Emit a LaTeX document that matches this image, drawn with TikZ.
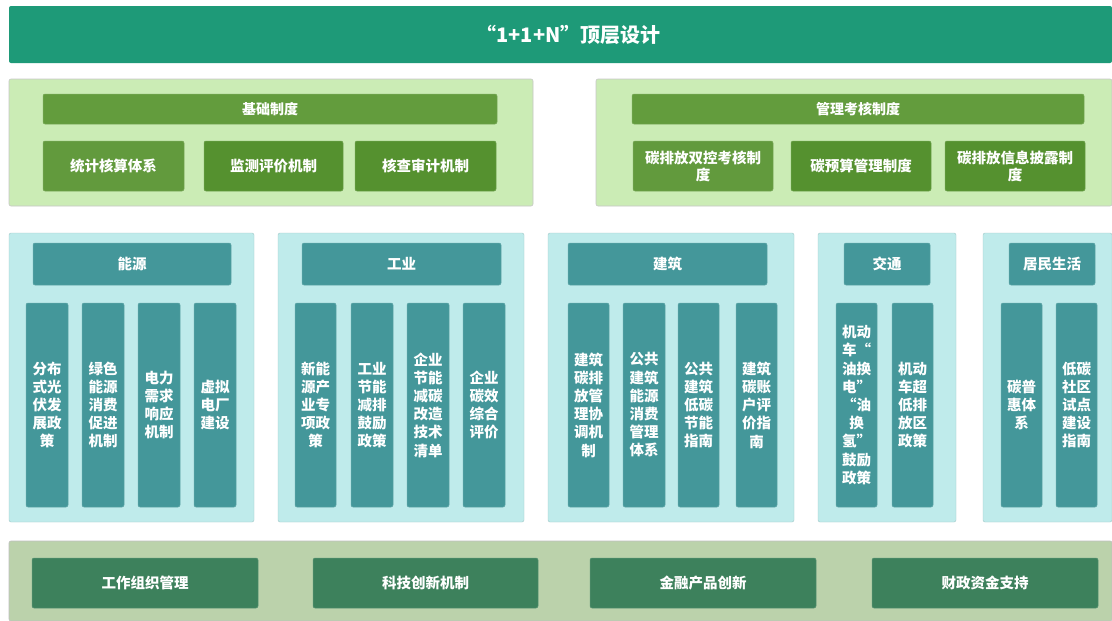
\documentclass[tikz,border=0pt]{standalone}
\usepackage{fontspec}
\setmainfont{Noto Sans CJK SC}
\definecolor{banner}{HTML}{1E9A78}
\definecolor{gpanel}{HTML}{CBECB5}
\definecolor{ghead}{HTML}{639C3D}
\definecolor{gitemA}{HTML}{629A3D}
\definecolor{gitemB}{HTML}{55912F}
\definecolor{cpanel}{HTML}{BFEBEB}
\definecolor{teal2}{HTML}{44979A}
\definecolor{opanel}{HTML}{BBD2AB}
\definecolor{dgreen}{HTML}{3D815C}
\tikzset{
  base/.style={rectangle, inner sep=0pt, align=center, text=white, font=\bfseries, rounded corners=2pt},
  bannerbox/.style={base, fill=banner, font=\bfseries\fontsize{20}{23}\selectfont},
  gpanelbox/.style={base, fill=gpanel, draw=black!22, line width=0.6pt},
  gheadbox/.style={base, fill=ghead, draw=ghead!85!white, line width=0.5pt, font=\bfseries\fontsize{14}{17}\selectfont},
  gitemabox/.style={base, fill=gitemA, draw=gitemA!85!white, line width=0.5pt, font=\bfseries\fontsize{14.5}{17}\selectfont},
  gitembbox/.style={base, fill=gitemB, draw=gitemB!85!white, line width=0.5pt, font=\bfseries\fontsize{14.5}{17}\selectfont},
  cpanelbox/.style={base, fill=cpanel, draw=cpanel!85!black, line width=0.4pt},
  theadbox/.style={base, fill=teal2, draw=teal2!85!white, line width=0.5pt, font=\bfseries\fontsize{14.5}{17}\selectfont},
  tcolbox/.style={base, fill=teal2, draw=teal2!85!white, line width=0.5pt, font=\bfseries\fontsize{14.5}{18.2}\selectfont},
  opanelbox/.style={base, fill=opanel, draw=black!25, line width=0.6pt},
  dgbox/.style={base, fill=dgreen, draw=dgreen!85!white, line width=0.5pt, font=\bfseries\fontsize{14.5}{17}\selectfont},
}
% #1 style, #2 name, #3 x1, #4 y1, #5 x2, #6 y2, #7 text
\newcommand{\bx}[7]{\node[#1, minimum width={(#5-#3)*1pt}, minimum height={(#6-#4)*1pt}] (#2) at ({(#3+#5)/2},{-(#4+#6)/2}) {#7};}
\begin{document}
\begin{tikzpicture}[x=1pt,y=1pt]
\useasboundingbox (0,0) rectangle (1112,-621);
\fill[white] (0,0) rectangle (1112,-621);
% banner
\bx{bannerbox}{top}{9}{6}{1112}{63}{\hspace*{16pt}“1+1+N”顶层设计}
% top panels
\bx{gpanelbox}{pl}{9}{79}{533}{206}{}
\bx{gheadbox}{hl}{43}{94}{497}{124}{基础制度}
\bx{gitemabox}{l1}{43}{141}{184}{191}{统计核算体系}
\bx{gitembbox}{l2}{204}{141}{343}{191}{监测评价机制}
\bx{gitembbox}{l3}{355}{141}{496}{191}{核查审计机制}
\bx{gpanelbox}{pr}{596}{79}{1112}{206}{}
\bx{gheadbox}{hr}{632}{94}{1084}{124}{管理考核制度}
\bx{gitemabox}{r1}{633}{141}{773}{191}{碳排放双控考核制\\度}
\bx{gitembbox}{r2}{791}{141}{931}{191}{碳预算管理制度}
\bx{gitembbox}{r3}{945}{141}{1085}{191}{碳排放信息披露制\\度}
% middle panels
\bx{cpanelbox}{m1}{9}{233}{254}{522}{}
\bx{theadbox}{h1}{33}{243}{231}{285}{能源}
\bx{tcolbox}{c11}{26}{303}{68}{507}{分布\\式光\\伏发\\展政\\策}
\bx{tcolbox}{c12}{82}{303}{124}{507}{绿色\\能源\\消费\\促进\\机制}
\bx{tcolbox}{c13}{138}{303}{180}{507}{电力\\需求\\响应\\机制}
\bx{tcolbox}{c14}{194}{303}{236}{507}{虚拟\\电厂\\建设}
\bx{cpanelbox}{m2}{278}{233}{524}{522}{}
\bx{theadbox}{h2}{302}{243}{501}{285}{工业}
\bx{tcolbox}{c21}{295}{303}{336}{507}{新能\\源产\\业专\\项政\\策}
\bx{tcolbox}{c22}{351}{303}{393}{507}{工业\\节能\\减排\\鼓励\\政策}
\bx{tcolbox}{c23}{407}{303}{449}{507}{企业\\节能\\减碳\\改造\\技术\\清单}
\bx{tcolbox}{c24}{463}{303}{505}{507}{企业\\碳效\\综合\\评价}
\bx{cpanelbox}{m3}{548}{233}{794}{522}{}
\bx{theadbox}{h3}{568}{243}{767}{285}{建筑}
\bx{tcolbox}{c31}{568}{303}{609}{507}{建筑\\碳排\\放管\\理协\\调机\\制}
\bx{tcolbox}{c32}{623}{303}{665}{507}{公共\\建筑\\能源\\消费\\管理\\体系}
\bx{tcolbox}{c33}{678}{303}{719}{507}{公共\\建筑\\低碳\\节能\\指南}
\bx{tcolbox}{c34}{736}{303}{777}{507}{建筑\\碳账\\户评\\价指\\南}
\bx{cpanelbox}{m4}{818}{233}{956}{522}{}
\bx{theadbox}{h4}{844}{243}{930}{285}{交通}
\bx{tcolbox}{c41}{836}{303}{877}{507}{机动\\车“\\油换\\电”\\“油\\换\\氢”\\鼓励\\政策}
\bx{tcolbox}{c42}{892}{303}{933}{507}{机动\\车超\\低排\\放区\\政策}
\bx{cpanelbox}{m5}{983}{233}{1112}{522}{}
\bx{theadbox}{h5}{1009}{243}{1095}{285}{居民生活}
\bx{tcolbox}{c51}{1001}{303}{1042}{507}{碳普\\惠体\\系}
\bx{tcolbox}{c52}{1056}{303}{1097}{507}{低碳\\社区\\试点\\建设\\指南}
% bottom panel
\bx{opanelbox}{pb}{9}{541}{1112}{621}{}
\bx{dgbox}{b1}{32}{558}{258}{608}{工作组织管理}
\bx{dgbox}{b2}{313}{558}{538}{608}{科技创新机制}
\bx{dgbox}{b3}{590}{558}{816}{608}{金融产品创新}
\bx{dgbox}{b4}{872}{558}{1098}{608}{财政资金支持}
\end{tikzpicture}
\end{document}
